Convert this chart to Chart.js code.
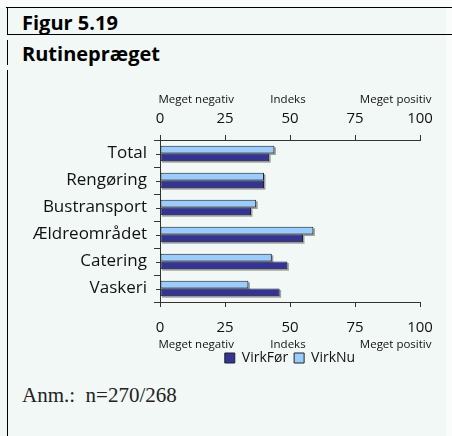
<!DOCTYPE html>
<html><head><meta charset="utf-8">
<script src="https://cdn.jsdelivr.net/npm/chart.js@4"></script>
<style>
html,body{margin:0;padding:0;}
body{width:452px;height:436px;position:relative;overflow:hidden;background:#f9fcfb;font-family:'Open Sans',sans-serif;}
#panel{position:absolute;left:0;top:8px;width:446px;height:428px;background:#f1f8f5;}
.hl{position:absolute;height:1px;background:#000;}
.vl{position:absolute;width:1px;background:#000;left:7px;}
.t{position:absolute;left:22px;font-weight:700;font-size:20px;line-height:20px;color:#000;white-space:nowrap;}
#note{position:absolute;left:22px;top:385px;font-family:'Liberation Serif',serif;font-size:21px;line-height:21px;color:#222;white-space:pre;}
#c{position:absolute;left:0;top:0;width:452px;height:436px;}
</style></head><body>
<div id="panel"></div>
<div class="hl" style="left:6px;top:7px;width:446px;"></div>
<div class="hl" style="left:7px;top:34px;width:445px;"></div>
<div class="vl" style="top:8px;height:26px;"></div>
<div class="vl" style="top:40px;height:25px;"></div>
<div class="vl" style="top:70px;height:366px;"></div>
<div class="t" style="top:13px">Figur 5.19</div>
<div class="t" style="top:44px">Rutinepræget</div>
<div id="note">Anm.:  n=270/268</div>
<canvas id="c" width="452" height="436"></canvas>
<script>
const categories = ['Total', 'Rengøring', 'Bustransport', 'Ældreområdet', 'Catering', 'Vaskeri'];
const virkFor = [42, 40, 35, 55, 49, 46];
const virkNu = [44, 40, 37, 59, 43, 34];
const seriesNames = ['VirkFør', 'VirkNu'];
const xTicks = [0, 25, 50, 75, 100];
const axisCaptions = ['Meget negativ', 'Indeks', 'Meget positiv'];

Chart.defaults.font.family = "'Open Sans', sans-serif";
Chart.defaults.color = '#111';

const AXIS = '#333';

function fixX(h) {
  return function (s) { s.height = h; s.paddingLeft = 0; s.paddingRight = 0; };
}

const extras = {
  id: 'extras',
  beforeDatasetsDraw(chart) {
    const ctx = chart.ctx;
    ctx.save();
    ctx.fillStyle = 'rgba(0,0,0,0.35)';
    chart.data.datasets.forEach((d, i) => {
      chart.getDatasetMeta(i).data.forEach(el => {
        const p = el.getProps(['x', 'y', 'base', 'height'], true);
        const left = Math.min(p.base, p.x), w = Math.abs(p.x - p.base);
        ctx.fillRect(left + 1.5, p.y - p.height / 2 + 1.5, w, p.height);
      });
    });
    ctx.restore();
  },
  afterDraw(chart) {
    const ctx = chart.ctx;
    const ys = chart.scales.y, xs = chart.scales.x;
    ctx.save();
    ctx.strokeStyle = AXIS;
    ctx.lineWidth = 1;
    categories.forEach((c, i) => {
      const py = Math.round(ys.getPixelForValue(i)) + 0.5;
      ctx.beginPath(); ctx.moveTo(ys.right - 4, py); ctx.lineTo(ys.right, py); ctx.stroke();
    });
    ctx.fillStyle = '#111';
    ctx.font = "11.5px 'Open Sans', sans-serif";
    ctx.textBaseline = 'alphabetic';
    const p0 = xs.getPixelForValue(xTicks[0]);
    const p50 = xs.getPixelForValue(xTicks[2]);
    const p100 = xs.getPixelForValue(xTicks[4]);
    const rows = [chart.chartArea.top - 37, chart.chartArea.bottom + 46];
    rows.forEach(y => {
      ctx.textAlign = 'left'; ctx.fillText(axisCaptions[0], p0 - 1.5, y);
      ctx.textAlign = 'center'; ctx.fillText(axisCaptions[1], p50 - 2, y);
      ctx.textAlign = 'right'; ctx.fillText(axisCaptions[2], p100 + 11.5, y);
    });
    ctx.restore();
  }
};

const xCommon = {
  type: 'linear', min: 0, max: 100,
  afterBuildTicks: s => { s.ticks = xTicks.map(v => ({ value: v })); },
  grid: { drawOnChartArea: false, tickLength: 5, color: AXIS },
  border: { color: AXIS }
};

new Chart(document.getElementById('c'), {
  type: 'bar',
  data: {
    labels: categories,
    datasets: [
      { label: seriesNames[1], data: virkNu, backgroundColor: '#99ccff', borderColor: '#222', borderWidth: 1, borderSkipped: false },
      { label: seriesNames[0], data: virkFor, backgroundColor: '#333399', borderColor: '#222', borderWidth: 1, borderSkipped: false }
    ]
  },
  options: {
    indexAxis: 'y',
    responsive: false,
    animation: false,
    devicePixelRatio: 1,
    layout: { padding: { left: 10, right: 32, top: 100, bottom: 61 } },
    datasets: { bar: { categoryPercentage: 0.57, barPercentage: 1 } },
    scales: {
      x: Object.assign({}, xCommon, { position: 'bottom', afterFit: fixX(43),
        ticks: { font: { size: 15 }, color: '#111', padding: 12 } }),
      x2: Object.assign({}, xCommon, { position: 'top', afterFit: fixX(40),
        ticks: { font: { size: 15 }, color: '#111', padding: 7 } }),
      y: {
        type: 'category',
        grid: { drawOnChartArea: false, tickLength: 6, color: AXIS, offset: true },
        border: { color: AXIS },
        ticks: { font: { size: 17 }, color: '#111', padding: 7 },
        afterFit: s => { s.width = 150; s.paddingTop = 0; s.paddingBottom = 0; }
      }
    },
    plugins: {
      legend: {
        position: 'bottom', fullSize: false, reverse: true,
        labels: { boxWidth: 10, boxHeight: 10, padding: 6, font: { size: 14 }, color: '#111' }
      },
      tooltip: { enabled: false }
    }
  },
  plugins: [extras]
});
</script>
</body></html>
